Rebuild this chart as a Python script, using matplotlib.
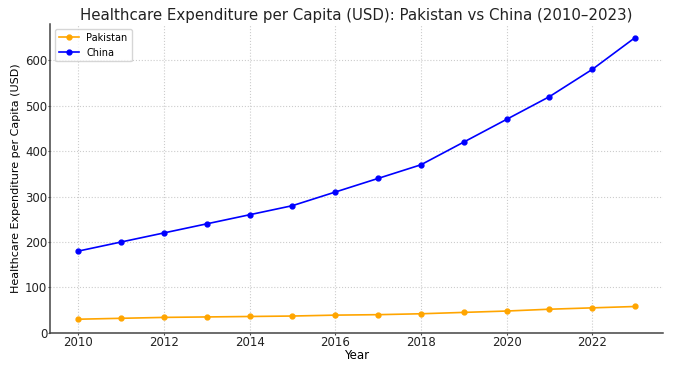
import numpy as np
import matplotlib
matplotlib.use("Agg")
import matplotlib.pyplot as plt

years = [2010, 2011, 2012, 2013, 2014, 2015, 2016, 2017, 2018, 2019, 2020, 2021, 2022, 2023]
pakistan = [30, 32, 34, 35, 36, 37, 39, 40, 42, 45, 48, 52, 55, 58]
china = [180, 200, 220, 240, 260, 280, 310, 340, 370, 420, 470, 520, 580, 650]

fig, ax = plt.subplots(figsize=(6.73, 3.69), dpi=100)
fig.subplots_adjust(left=0.075, right=0.985, top=0.935, bottom=0.098)

ax.plot(years, pakistan, marker="o", markersize=3.5, linewidth=1.2, color="orange", label="Pakistan")
ax.plot(years, china, marker="o", markersize=3.5, linewidth=1.2, color="blue", label="China")

ax.set_title("Healthcare Expenditure per Capita (USD): Pakistan vs China (2010\u20132023)",
             fontsize=10.8, color="#222222", pad=3)
ax.set_xlabel("Year", fontsize=8.5, labelpad=0)
ax.set_ylabel("Healthcare Expenditure per Capita (USD)", fontsize=8, labelpad=3)
ax.set_xticks(range(2010, 2024, 2))
ax.set_ylim(0, 680)
ax.set_yticks(range(0, 700, 100))
ax.tick_params(labelsize=8.5, length=1.5, pad=0.8, color="#444444", labelcolor="#222222")
ax.grid(True, linestyle=":", color="#cccccc", linewidth=0.8)
ax.spines["top"].set_visible(False)
ax.spines["right"].set_visible(False)
for s in ("left", "bottom"):
    ax.spines[s].set_color("#444444")
    ax.spines[s].set_linewidth(1.1)
ax.legend(loc="upper left", fontsize=7)

plt.savefig("out.png")
